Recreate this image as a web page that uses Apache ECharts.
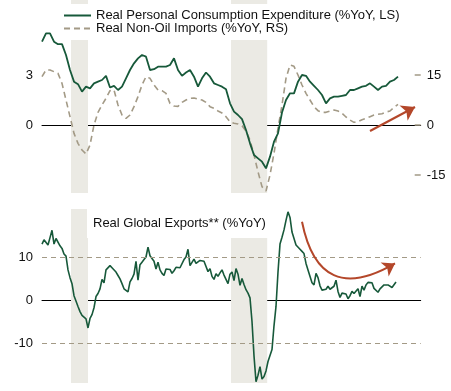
<!DOCTYPE html>
<html><head><meta charset="utf-8">
<script src="https://cdn.jsdelivr.net/npm/echarts@6/dist/echarts.min.js"></script>
<style>html,body{margin:0;padding:0;background:#fff}#c{width:451px;height:391px}</style>
</head><body><div id="c"></div>
<script>
// Months since Jan 2000
const pceName = 'Real Personal Consumption Expenditure (%YoY, LS)';
const importsName = 'Real Non-Oil Imports (%YoY, RS)';
const exportsTitle = 'Real Global Exports** (%YoY)';
const topStepMonths = 2;
const pceYoY = [5.0,5.5,5.5,5.0,4.85,4.85,4.2,3.3,2.6,2.45,
  2.0,2.3,2.2,2.5,2.6,2.7,2.95,2.25,2.35,2.1,
  2.3,2.8,3.3,3.7,4.0,4.2,4.1,3.3,3.35,3.5,
  3.5,3.5,3.6,4.0,3.3,2.95,3.15,3.3,2.9,2.3,
  2.8,3.15,2.9,2.5,2.4,2.3,2.15,1.3,0.8,0.6,
  0.35,-0.3,-1.1,-1.8,-2.0,-2.2,-2.6,-1.9,-1.0,-0.5,
  0.75,1.5,1.9,1.9,2.6,3.0,2.95,2.6,2.35,2.1,
  1.8,1.3,1.6,1.7,1.7,1.75,1.8,2.1,2.1,2.2,
  2.3,2.35,2.5,2.3,2.1,2.3,2.35,2.6,2.7,2.9];
const importsYoY = [14.5,16.5,16.5,16,15.5,12.5,7.5,2.5,-2.5,-5.5,
  -7.5,-8.7,-6,0,3.8,6,8,10.3,10.5,6,
  3,2,3,5.5,8.5,12,14.5,14,12,10.5,
  10.3,9.5,6.5,5.7,5.6,6.8,7.5,8,8.1,7.8,
  7.5,6.8,5.5,5,4.2,3.6,2.5,1,0.5,0.3,
  -0.2,-1.8,-4.5,-9,-14,-18.5,-19.8,-15,-8.5,-1,
  6,14,18,17.6,15,12,9.5,7.5,5.5,4.3,
  3.8,3.8,4.2,4.5,4.2,3.5,2.4,1.5,0.8,1.0,
  1.6,2,2.5,3.0,3.2,3.4,3.9,4.2,5.3,6.2];
const exportsYoY = [13.0,14.0,14.3,12.8,14.5,16.2,13.0,14.3,14.0,12.6,
  12.0,10.7,10.2,7.0,5.2,3.8,1.0,0.9,-1.5,-2.7,
  -3.6,-3.9,-4.4,-6.5,-4.3,-3.4,-1.8,0.8,1.5,2.6,
  4.8,4.0,7.0,6.9,8.0,7.5,7.1,6.5,5.7,4.9,
  3.8,2.6,2.9,1.9,4.2,5.0,6.0,9.0,4.6,8.2,
  8.8,9.4,10.0,12.3,10.3,10.2,9.0,7.2,8.8,7.0,
  6.2,5.7,7.2,7.3,7.1,6.2,6.8,7.6,7.4,7.5,
  7.6,9.4,10.0,11.8,8.0,8.3,9.5,8.5,8.8,9.2,
  8.8,9.0,9.0,6.6,7.3,5.5,4.8,6.1,5.5,6.3,
  7.0,5.8,4.8,3.8,6.0,6.5,4.5,7.3,6.0,3.4,
  5.0,3.6,2.4,1.6,0.5,-5.0,-13.0,-19.0,-17.5,-15.5,
  -18.4,-17.8,-16.5,-14.3,-14.0,-11.5,-6.0,-1.5,6.5,13.0,
  14.6,16.3,18.5,20.5,19.2,15.8,16.2,12.8,12.4,11.8,
  11.3,10.8,8.5,7.0,6.6,4.0,3.5,6.2,5.2,3.3,
  2.3,2.3,2.5,3.2,2.5,2.5,3.2,4.6,2.0,0.6,
  1.6,1.5,1.4,0.3,1.0,2.0,1.5,1.6,2.6,0.8,
  3.2,2.3,3.5,4.1,4.4,4.0,2.7,3.1,1.8,2.6,
  2.5,3.5,3.3,3.5,3.8,2.9,3.2,4.2];
const recessions = [[14.5, 23], [94.5, 112.6]];
const leftTopTicks = [0, 3];
const rightTopTicks = [-15, 0, 15];
const bottomTicks = [-10, 0, 10];
const bandLines = [10, -10];

const FONT = '"Liberation Sans", Arial, Helvetica, sans-serif';
const GREEN = '#17593a', TAN = '#a39a86', SHADE = '#ebeae4', ARROW = '#b4472a', TXT = '#111';

const chart = echarts.init(document.getElementById('c'), null, {renderer: 'canvas'});
const shade = () => ({silent: true, itemStyle: {color: SHADE}, data: recessions.map(r => [{xAxis: r[0]}, {xAxis: r[1]}])});
const xAx = (g) => ({gridIndex: g, type: 'value', min: 0, max: 189.35, axisLabel: {show: false}, axisTick: {show: false}, splitLine: {show: false},
  axisLine: {show: true, onZero: true, lineStyle: {color: '#000', width: 1}}});
const lbl = (vals, margin) => ({customValues: vals, margin: margin, color: TXT, fontSize: 13, fontFamily: FONT});

chart.setOption({
  animation: false,
  grid: [
    {left: 42, right: 30.3, top: 0, height: 193, outerBoundsMode: 'none'},
    {left: 42, right: 30.3, top: 209, height: 174, outerBoundsMode: 'none'}
  ],
  xAxis: [xAx(0), xAx(1)],
  yAxis: [
    {gridIndex: 0, type: 'value', min: -4.08, max: 7.5, splitLine: {show: false}, axisLine: {show: false}, axisTick: {show: false}, axisLabel: lbl(leftTopTicks, 9)},
    {gridIndex: 0, type: 'value', position: 'right', min: -20.4, max: 37.5, splitLine: {show: false}, axisLine: {show: false},
      axisTick: {show: true, inside: true, length: 6, customValues: rightTopTicks, lineStyle: {color: TAN, width: 1.5}}, axisLabel: lbl(rightTopTicks, 6)},
    {gridIndex: 1, type: 'value', min: -19.3, max: 21.16, splitLine: {show: false}, axisLine: {show: false}, axisTick: {show: false}, axisLabel: lbl(bottomTicks, 9)}
  ],
  legend: {
    left: 58, top: 4, orient: 'vertical', itemGap: 0, itemWidth: 27, itemHeight: 14, padding: [5, 8, 5, 5],
    backgroundColor: '#fff', z: 10, selectedMode: false,
    itemStyle: {opacity: 0, color: 'rgba(0,0,0,0)', borderWidth: 0},
    textStyle: {fontSize: 13, fontFamily: FONT, color: TXT},
    data: [pceName, importsName]
  },
  title: {
    text: exportsTitle, left: 87, top: 209, padding: [7, 4, 7, 6], backgroundColor: '#fff', z: 10,
    textStyle: {fontSize: 13, fontWeight: 'normal', fontFamily: FONT, color: TXT, lineHeight: 15}
  },
  series: [
    {name: importsName, type: 'line', xAxisIndex: 0, yAxisIndex: 1, symbol: 'none', color: TAN,
      lineStyle: {color: TAN, width: 1.6, type: [6, 4]},
      data: importsYoY.map((v, i) => [i * topStepMonths, v]), markArea: shade()},
    {name: pceName, type: 'line', xAxisIndex: 0, yAxisIndex: 0, symbol: 'none', color: GREEN,
      lineStyle: {color: GREEN, width: 1.8},
      data: pceYoY.map((v, i) => [i * topStepMonths, v])},
    {name: 'Real Global Exports', type: 'line', xAxisIndex: 1, yAxisIndex: 2, symbol: 'none', color: GREEN,
      lineStyle: {color: GREEN, width: 1.6},
      data: exportsYoY.map((v, i) => [i, v]), markArea: shade(),
      markLine: {silent: true, symbol: 'none', label: {show: false},
        lineStyle: {color: TAN, width: 1.2, type: [5, 4]},
        data: bandLines.map(v => ({yAxis: v}))}},
    {name: 'upArrow', type: 'lines', coordinateSystem: 'cartesian2d', xAxisIndex: 0, yAxisIndex: 0, silent: true, z: 5,
      symbol: ['none', 'arrow'], symbolSize: 13,
      lineStyle: {color: ARROW, width: 2.2, opacity: 1, curveness: 0},
      data: [{coords: [[164, -0.36], [186.5, 1.08]]}]},
    {name: 'trendArrow', type: 'lines', coordinateSystem: 'cartesian2d', xAxisIndex: 1, yAxisIndex: 2, silent: true, z: 5,
      symbol: ['none', 'arrow'], symbolSize: 12,
      lineStyle: {color: ARROW, width: 2, opacity: 1, curveness: -0.7},
      data: [{coords: [[130, 18.2], [176.5, 8.5]]}]}
  ]
});
</script></body></html>
